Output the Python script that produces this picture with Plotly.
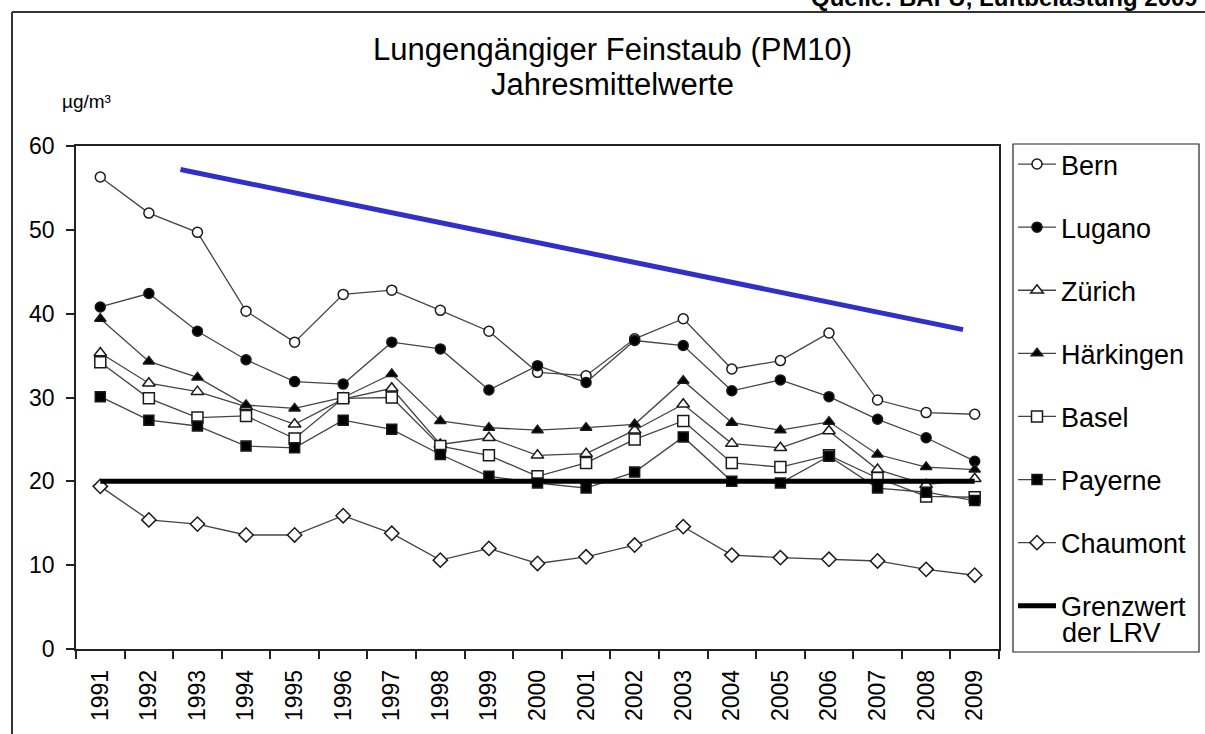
import plotly.graph_objects as go

# ---------------- data ----------------
years = [1991, 1992, 1993, 1994, 1995, 1996, 1997, 1998, 1999, 2000,
         2001, 2002, 2003, 2004, 2005, 2006, 2007, 2008, 2009]

bern = [56.3, 52.0, 49.7, 40.3, 36.6, 42.3, 42.8, 40.4, 37.9, 33.0,
        32.6, 37.0, 39.4, 33.4, 34.4, 37.7, 29.7, 28.2, 28.0]
lugano = [40.8, 42.4, 37.9, 34.5, 31.9, 31.6, 36.6, 35.8, 30.9, 33.8,
          31.8, 36.8, 36.2, 30.8, 32.1, 30.1, 27.4, 25.2, 22.4]
zuerich = [35.3, 31.7, 30.7, 28.9, 26.8, 29.8, 31.1, 24.4, 25.2, 23.1,
           23.3, 26.1, 29.2, 24.5, 24.0, 26.0, 21.4, 19.6, 20.3]
haerkingen = [39.4, 34.3, 32.4, 29.1, 28.7, 30.0, 32.8, 27.2, 26.4, 26.1,
              26.4, 26.8, 32.0, 27.0, 26.1, 27.1, 23.2, 21.7, 21.4]
basel = [34.2, 29.9, 27.6, 27.8, 25.1, 29.9, 30.0, 24.2, 23.1, 20.6,
         22.2, 25.0, 27.2, 22.2, 21.7, 23.1, 20.4, 18.2, 18.1]
payerne = [30.1, 27.3, 26.6, 24.2, 24.0, 27.3, 26.2, 23.2, 20.6, 19.8,
           19.2, 21.1, 25.3, 20.0, 19.8, 23.0, 19.2, 18.7, 17.7]
chaumont = [19.4, 15.4, 14.9, 13.6, 13.6, 15.9, 13.8, 10.6, 12.0, 10.2,
            11.0, 12.4, 14.6, 11.2, 10.9, 10.7, 10.5, 9.5, 8.8]

grenzwert_x = [1991, 2009]
grenzwert_y = [20, 20]

trend_x = [1992.65, 2008.76]
trend_y = [57.2, 38.1]

series_names = ["Bern", "Lugano", "Zürich", "Härkingen", "Basel", "Payerne", "Chaumont"]
series_values = [bern, lugano, zuerich, haerkingen, basel, payerne, chaumont]
series_symbols = ["circle", "circle", "triangle-up", "triangle-up", "square", "square", "diamond"]
series_fill = ["white", "black", "white", "black", "white", "black", "white"]
series_size = [10, 10, 11, 10, 11, 10, 11]

grenzwert_label_1 = "Grenzwert"
grenzwert_label_2 = "der LRV"

ytick_vals = [0, 10, 20, 30, 40, 50, 60]
boundaries = [y - 0.5 for y in years] + [years[-1] + 0.5]

FONT = "Arial, Liberation Sans, sans-serif"

# ---------------- figure ----------------
fig = go.Figure()

for i, (name, vals, sym, fill, sz) in enumerate(
        zip(series_names, series_values, series_symbols, series_fill, series_size)):
    fig.add_trace(go.Scatter(
        x=years, y=vals, name=name, mode="lines+markers",
        legendgroup=f"g{i}",
        line=dict(color="#444444", width=1.3),
        marker=dict(symbol=sym, size=sz, color=fill,
                    line=dict(color="#1a1a1a", width=1.5)),
    ))

fig.add_trace(go.Scatter(
    x=grenzwert_x, y=grenzwert_y, name=grenzwert_label_1, mode="lines",
    legendgroup="g7",
    line=dict(color="black", width=5),
))

fig.add_trace(go.Scatter(
    x=trend_x, y=trend_y, mode="lines", showlegend=False,
    line=dict(color="#3030c8", width=5),
))

# pixel -> paper helpers (plot area: x 76..999, y 146..649)
def px_x(px):
    return (px - 76) / 923.0

def px_y(py):
    return (649 - py) / 503.0

fig.update_layout(
    width=1205, height=734,
    margin=dict(l=76, r=206, t=146, b=85, autoexpand=False),
    paper_bgcolor="white", plot_bgcolor="white",
    font=dict(family=FONT, color="black"),
    showlegend=True,
    legend=dict(
        x=px_x(1013), y=px_y(140), xanchor="left", yanchor="top",
        borderwidth=0, bgcolor="rgba(0,0,0,0)",
        font=dict(size=27, family=FONT, color="black"),
        tracegroupgap=25, valign="top", itemwidth=38,
        maxheight=600,
    ),
    xaxis=dict(
        range=[1990.5, 2009.5], tickmode="array", tickvals=years,
        ticktext=[str(y) for y in years], tickangle=-90,
        ticks="", showgrid=False, zeroline=False,
        showline=True, linecolor="#222222", linewidth=1.5, mirror=True,
        tickfont=dict(size=23, family=FONT, color="black"),
        ticklabelstandoff=10,
        minor=dict(tickmode="array", tickvals=boundaries, ticks="outside",
                   ticklen=8, tickwidth=1.5, tickcolor="#222222", showgrid=False),
    ),
    yaxis=dict(
        range=[0, 60], tickmode="array", tickvals=ytick_vals,
        ticks="outside", ticklen=8, tickwidth=1.5, tickcolor="#222222",
        showgrid=False, zeroline=False,
        showline=True, linecolor="#222222", linewidth=1.5, mirror=True,
        tickfont=dict(size=23, family=FONT, color="black"),
        ticklabelstandoff=7,
    ),
    annotations=[
        dict(text="Lungengängiger Feinstaub (PM10)", xref="paper", yref="paper",
             x=px_x(612), y=px_y(49), xanchor="center", yanchor="middle",
             showarrow=False, font=dict(size=31, family=FONT, color="black")),
        dict(text="Jahresmittelwerte", xref="paper", yref="paper",
             x=px_x(612), y=px_y(84), xanchor="center", yanchor="middle",
             showarrow=False, font=dict(size=31, family=FONT, color="black")),
        dict(text="µg/m³", xref="paper", yref="paper",
             x=px_x(60), y=px_y(101), xanchor="left", yanchor="middle",
             showarrow=False, font=dict(size=19, family=FONT, color="black")),
        dict(text="<b>Quelle: BAFU, Luftbelastung 2009</b>", xref="paper", yref="paper",
             x=px_x(1200), y=px_y(-3), xanchor="right", yanchor="middle",
             showarrow=False, font=dict(size=24, family=FONT, color="black")),
        dict(text=grenzwert_label_2, xref="paper", yref="paper",
             x=px_x(1060), y=px_y(633), xanchor="left", yanchor="middle",
             showarrow=False, font=dict(size=27, family=FONT, color="black")),
    ],
    shapes=[
        dict(type="line", xref="paper", yref="paper",
             x0=px_x(12), x1=px_x(1215), y0=px_y(12), y1=px_y(12),
             line=dict(color="#333333", width=2)),
        dict(type="line", xref="paper", yref="paper",
             x0=px_x(12), x1=px_x(12), y0=px_y(12), y1=px_y(745),
             line=dict(color="#333333", width=2)),
        # legend frame
        dict(type="rect", xref="paper", yref="paper",
             x0=px_x(1013), x1=px_x(1199), y0=px_y(652), y1=px_y(144),
             line=dict(color="#222222", width=1.2), fillcolor="rgba(0,0,0,0)"),
    ],
)

fig.write_html("out.html",
               config={"displayModeBar": False},
               post_script="document.body.style.margin='0px';document.body.style.overflow='hidden';")
